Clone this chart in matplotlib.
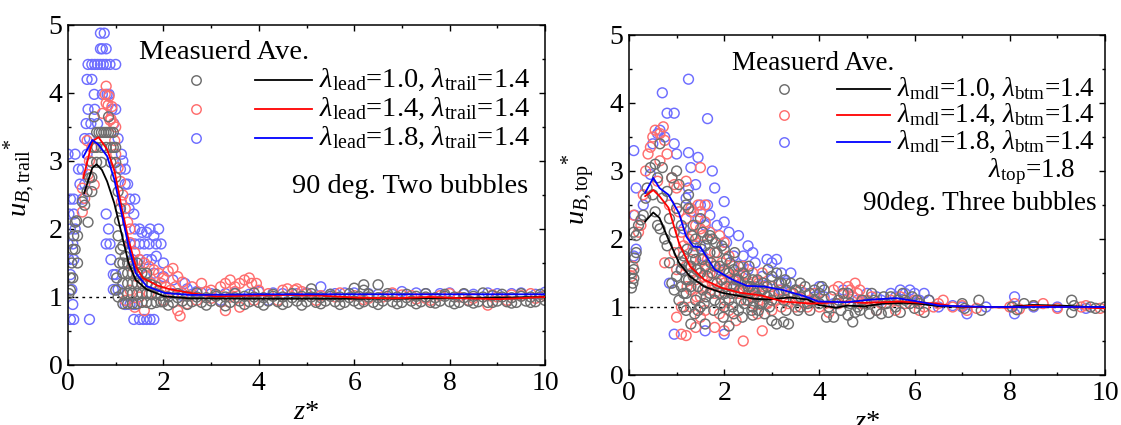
import numpy as np
import matplotlib
matplotlib.use('Agg')
import matplotlib.pyplot as plt
from matplotlib.ticker import MultipleLocator

plt.rcParams['font.family'] = 'Liberation Serif'
plt.rcParams['mathtext.fontset'] = 'custom'
plt.rcParams['mathtext.rm'] = 'Liberation Serif'
plt.rcParams['mathtext.it'] = 'Liberation Serif:italic'
plt.rcParams['font.size'] = 20

# ---- two bubbles (trail) : measured points (z*, u*) ----
trail_gray = [
    (0.02, 1.05), (0.05, 1.28), (0.05, 1.1), (0.08, 1.5), (0.1, 1.7), (0.12, 1.9), (0.15, 2.1),
    (0.18, 2.12), (0.1, 1.28), (0.15, 1.7), (0.2, 1.9), (0.2, 1.5),
    (0.35, 2.35), (0.4, 2.55), (0.45, 2.75), (0.3, 2.4), (0.5, 2.55), (0.42, 2.1),
    (0.5, 2.98), (0.55, 3.2), (0.6, 3.42), (0.65, 3.42), (0.7, 3.42), (0.75, 3.42), (0.8, 3.42),
    (0.85, 3.42), (0.9, 3.42), (0.95, 3.42), (0.55, 3.65), (0.85, 3.65), (0.6, 3.2), (0.7, 3.2),
    (0.8, 3.2), (0.9, 3.2), (0.95, 3.2), (1.0, 3.2), (0.6, 2.98), (0.7, 2.98), (0.9, 2.98),
    (1.0, 2.98), (0.5, 2.76), (1.0, 2.76), (1.05, 2.55), (1.1, 2.3), (1.08, 2.12), (1.05, 1.9),
    (1.1, 1.7), (1.08, 1.5), (1.02, 1.28), (1.0, 1.1), (1.05, 1.0), (1.2, 1.6), (1.15, 1.75),
    (1.15, 0.9), (1.15, 1.05), (1.15, 1.2), (1.15, 1.35), (1.15, 1.5),
    (1.25, 0.9), (1.25, 1.05), (1.25, 1.2), (1.25, 1.35), (1.25, 1.5),
    (1.35, 0.9), (1.35, 1.05), (1.35, 1.2), (1.35, 1.35), (1.35, 1.5),
    (1.45, 0.9), (1.45, 1.05), (1.45, 1.2), (1.45, 1.35), (1.45, 1.5),
    (1.55, 0.92), (1.55, 1.05), (1.55, 1.2), (1.55, 1.35),
    (1.65, 0.92), (1.65, 1.05), (1.65, 1.2), (1.65, 1.35),
    (1.75, 0.9), (1.75, 1.05), (1.75, 1.18), (1.85, 0.92), (1.85, 1.05), (1.85, 1.15),
    (1.95, 0.93), (1.95, 1.02),
    (2.0, 0.93), (2.2, 0.92), (2.4, 0.94), (2.6, 0.93), (2.8, 0.92), (3.0, 0.94), (3.2, 0.93),
    (3.4, 0.92), (3.6, 0.94), (3.8, 0.93), (4.0, 0.92), (4.2, 0.94), (4.4, 0.93), (4.6, 0.92),
    (4.8, 0.94), (5.0, 0.93), (5.2, 0.92), (5.4, 0.94), (5.6, 0.93), (5.8, 0.92), (6.0, 0.94),
    (6.2, 0.93), (6.4, 0.92), (6.6, 0.94), (6.8, 0.93), (7.0, 0.92), (7.2, 0.94), (7.4, 0.93),
    (7.6, 0.92), (7.8, 0.94), (8.0, 0.93), (8.2, 0.92), (8.4, 0.94), (8.6, 0.93), (8.8, 0.92),
    (9.0, 0.94), (9.2, 0.93), (9.4, 0.92), (9.6, 0.94), (9.8, 0.93), (10.0, 0.95),
    (2.1, 1.0), (2.3, 0.99), (2.5, 1.01), (2.7, 1.0), (2.9, 0.99), (3.1, 1.01), (3.3, 1.0),
    (3.5, 0.99), (3.7, 1.01), (3.9, 1.0), (4.1, 0.99), (4.3, 1.01), (4.5, 1.0), (4.7, 0.99),
    (4.9, 1.01), (5.1, 1.0), (5.3, 0.99), (5.5, 1.01), (5.7, 1.0), (5.9, 0.99), (6.1, 1.01),
    (6.3, 1.0), (6.5, 0.99), (6.7, 1.01), (6.9, 1.0), (7.1, 0.99), (7.3, 1.01), (7.5, 1.0),
    (7.7, 0.99), (7.9, 1.01), (8.1, 1.0), (8.3, 0.99), (8.5, 1.01), (8.7, 1.0), (8.9, 1.02),
    (9.1, 1.0), (9.3, 0.99), (9.5, 1.01), (9.7, 1.0), (9.9, 1.0),
    (2.1, 0.88), (2.5, 0.89), (2.9, 0.88), (3.3, 0.87), (3.7, 0.89), (4.1, 0.88), (4.5, 0.89),
    (4.9, 0.88), (5.3, 0.9), (5.7, 0.89), (6.1, 0.9), (6.5, 0.89), (6.9, 0.9), (7.3, 0.9),
    (7.7, 0.91), (8.1, 0.9), (8.5, 0.91), (8.9, 0.92), (9.3, 0.91), (9.7, 0.92),
    (2.3, 1.05), (2.7, 1.06), (3.1, 1.04), (3.5, 1.05), (3.9, 1.06), (4.3, 1.04), (4.7, 1.05),
    (5.1, 1.05), (5.5, 1.04), (5.9, 1.05), (6.3, 1.04), (6.7, 1.05), (7.1, 1.04), (7.5, 1.05),
    (7.9, 1.04), (8.3, 1.05), (8.7, 1.06), (9.1, 1.04), (9.5, 1.05), (9.9, 1.04),
    (5.1, 1.12), (6.0, 1.13), (6.2, 1.18), (6.5, 1.18), (6.2, 1.1),
]
trail_red = [
    (0.3, 2.6), (0.35, 2.45), (0.42, 2.8), (0.45, 3.0), (0.5, 3.2), (0.4, 3.3),
    (0.8, 4.1), (0.78, 3.98), (0.86, 3.95), (0.8, 3.85), (0.84, 3.82), (0.92, 3.8), (0.72, 3.7),
    (0.9, 3.62), (0.95, 3.55), (1.0, 3.5), (0.88, 3.6), (0.98, 3.3), (1.0, 3.1), (1.05, 2.9),
    (1.1, 2.7), (1.15, 2.5), (1.2, 2.3), (1.25, 2.1), (1.12, 2.4), (1.3, 2.0), (0.55, 2.65),
    (0.3, 2.25),
    (1.3, 1.8), (1.4, 1.65), (1.5, 1.55), (1.6, 1.5), (1.7, 1.45), (1.8, 1.4), (1.9, 1.35),
    (2.0, 1.28), (2.1, 1.38), (2.2, 1.42), (2.3, 1.3), (2.4, 1.22), (1.35, 1.45), (1.45, 1.3),
    (1.55, 1.2), (1.65, 1.3), (1.75, 1.2), (1.85, 1.15), (1.95, 1.2), (2.05, 1.15), (2.15, 1.1),
    (2.25, 1.15), (1.3, 1.1), (1.5, 1.0), (1.7, 1.05), (1.4, 0.85), (1.6, 0.8), (1.2, 0.95),
    (2.3, 0.8), (2.35, 0.72), (2.5, 0.9), (2.0, 0.95),
    (2.6, 1.15), (2.8, 1.2), (3.0, 1.1), (3.2, 1.15), (3.3, 1.2), (3.5, 1.15), (3.7, 1.25),
    (3.85, 1.2), (3.3, 0.8), (3.6, 0.85), (2.7, 0.95), (3.0, 0.98), (3.4, 1.0), (3.9, 0.95),
    (3.4, 1.25), (3.6, 1.2), (3.8, 1.28), (3.95, 1.2), (4.6, 1.12), (4.75, 1.1),
    (4.2, 1.05), (4.5, 1.1), (4.8, 1.12), (5.0, 1.05), (5.3, 1.02), (5.6, 1.0), (6.0, 1.02),
    (6.3, 0.98), (6.6, 1.0), (7.0, 1.03), (7.3, 0.97), (7.5, 0.98), (7.8, 1.02), (8.2, 1.0),
    (8.5, 0.98), (8.8, 0.88), (9.0, 1.0), (9.3, 1.03), (9.5, 1.02), (9.8, 0.98), (10.0, 1.02),
    (2.4, 1.05), (2.9, 1.08), (3.2, 0.93), (3.5, 1.08), (4.0, 1.1), (4.4, 0.95), (4.9, 1.08),
    (5.2, 0.95), (5.7, 1.06), (6.2, 0.96), (6.8, 1.06), (7.2, 1.02), (7.6, 0.95), (8.0, 1.05),
    (8.4, 0.95), (8.9, 1.03), (9.2, 0.95), (9.7, 1.05),
]
trail_blue = [
    (0.68, 4.88), (0.76, 4.88), (0.68, 4.65), (0.72, 4.65), (0.8, 4.65),
    (0.42, 4.42), (0.5, 4.42), (0.56, 4.42), (0.62, 4.42), (0.68, 4.42), (0.74, 4.42),
    (0.8, 4.42), (0.88, 4.42), (1.0, 4.42), (0.4, 4.2), (0.5, 4.2),
    (0.55, 3.98), (0.72, 3.98), (0.82, 3.98), (0.86, 3.98),
    (0.42, 3.76), (0.56, 3.76), (0.92, 3.76), (1.0, 3.76),
    (0.38, 3.55), (0.48, 3.55), (0.62, 3.55), (0.96, 3.55),
    (0.35, 3.33), (0.45, 3.33), (1.05, 3.33),
    (0.0, 3.1), (0.15, 3.1), (0.4, 3.1), (1.12, 3.1), (1.15, 3.0),
    (0.22, 2.88), (0.3, 2.88), (1.1, 2.88), (1.2, 2.88),
    (0.25, 2.66), (0.35, 2.66), (1.2, 2.66), (1.25, 2.66),
    (0.05, 2.44), (0.12, 2.44), (0.3, 2.44), (1.3, 2.44), (1.4, 2.44), (1.28, 2.3),
    (0.02, 2.22), (0.12, 2.22), (1.38, 2.22), (0.8, 2.22),
    (0.05, 2.0), (0.15, 2.0), (0.85, 2.0), (1.4, 2.0), (1.5, 2.0), (1.55, 1.95), (1.65, 1.95),
    (1.72, 2.0), (1.9, 2.0), (1.8, 1.9),
    (0.0, 1.78), (0.1, 1.78), (0.8, 1.78), (0.88, 1.78), (1.3, 1.78), (1.4, 1.78), (1.5, 1.78),
    (1.6, 1.78), (1.7, 1.78), (1.85, 1.78), (1.95, 1.78),
    (0.02, 1.55), (0.12, 1.55), (0.9, 1.55), (1.35, 1.55), (1.5, 1.55), (1.65, 1.55),
    (1.75, 1.55), (1.85, 1.6), (2.0, 1.5),
    (0.05, 1.33), (0.95, 1.33), (1.0, 1.33), (1.5, 1.4), (1.8, 1.35), (2.0, 1.3), (2.2, 1.25),
    (2.45, 1.2), (0.08, 1.11), (0.95, 1.11), (1.05, 1.11), (2.5, 1.12), (2.7, 1.08),
    (0.1, 0.89), (1.2, 0.89), (1.3, 0.89), (1.4, 0.89),
    (0.05, 0.67), (0.12, 0.67), (0.45, 0.67), (1.38, 0.67), (1.5, 0.67), (1.58, 0.67),
    (1.65, 0.67), (1.72, 0.67), (1.8, 0.67),
    (3.0, 1.05), (3.5, 1.06), (4.0, 1.08), (4.5, 1.05), (5.0, 1.06), (5.3, 1.15), (5.6, 1.05),
    (6.0, 1.06), (6.5, 1.04), (7.0, 1.08), (7.5, 1.05), (8.0, 1.06), (8.5, 1.04), (9.0, 1.05),
    (9.5, 1.06), (10.0, 1.07), (3.2, 0.95), (4.2, 0.95),
    (2.2, 1.05), (2.4, 1.02), (2.6, 1.04), (2.8, 1.06), (3.3, 1.05), (3.8, 1.04), (4.3, 1.06),
    (4.8, 1.05), (5.5, 1.04), (5.8, 1.06), (6.3, 1.05), (6.8, 1.04), (7.3, 1.06), (7.8, 1.05),
    (8.3, 1.04), (8.8, 1.06), (9.3, 1.05), (9.8, 1.04),
]

# ---- two bubbles : averaged model lines ----
trail_line_x = {
    'black': [0.34, 0.51, 0.6, 0.71, 0.82, 0.97, 1.12, 1.27, 1.42, 1.65, 2.02, 2.55, 4.0, 6.0, 7.0, 8.0, 9.0, 10.0],
    'red': [0.32, 0.51, 0.64, 0.82, 0.97, 1.12, 1.27, 1.42, 1.57, 1.87, 2.1, 2.55, 3.07, 3.8, 4.57, 5.3, 6.07, 6.8, 7.57, 8.3, 9.06, 10.0],
    'blue': [0.32, 0.51, 0.64, 0.82, 0.97, 1.12, 1.27, 1.42, 1.65, 2.02, 2.55, 4.0, 6.0, 8.0, 10.0],
}
trail_line_y = {
    'black': [2.53, 2.9, 2.95, 2.87, 2.7, 2.38, 1.94, 1.5, 1.25, 1.11, 1.01, 0.98, 0.975, 0.975, 0.978, 0.985, 0.99, 1.0],
    'red': [2.75, 3.29, 3.35, 3.17, 2.87, 2.33, 1.84, 1.45, 1.28, 1.17, 1.12, 1.06, 1.01, 1.02, 1.03, 1.02, 0.99, 0.98, 1.0, 0.98, 0.97, 1.0],
    'blue': [3.06, 3.31, 3.24, 3.07, 2.73, 2.24, 1.75, 1.35, 1.16, 1.06, 1.03, 1.04, 1.04, 1.04, 1.04],
}

# ---- three bubbles (top) : measured points ----
top_gray = [
    (0.05, 1.28), (0.08, 1.35), (0.1, 1.42), (0.1, 1.55), (0.05, 1.5), (0.12, 1.72), (0.15, 1.8),
    (0.1, 2.1), (0.15, 2.05), (0.2, 2.2), (0.25, 2.28), (0.3, 2.35), (0.35, 2.6), (0.38, 2.75),
    (0.45, 3.05), (0.55, 3.1), (0.65, 3.4), (0.7, 3.05), (0.6, 2.9), (0.5, 2.65), (0.7, 2.6),
    (0.55, 2.4), (0.6, 2.2), (0.65, 2.15), (0.75, 2.0), (0.8, 1.9), (0.85, 1.65), (0.9, 1.35),
    (0.95, 1.25), (1.0, 1.45), (1.05, 1.8), (1.0, 2.45), (1.05, 2.8), (1.0, 3.0), (0.9, 2.9),
    (0.8, 2.7), (0.85, 2.3), (0.95, 2.1), (1.1, 2.2),
    (1.15, 1.0), (1.2, 1.2), (1.25, 1.4), (1.3, 1.6), (1.35, 1.8), (1.4, 2.0), (1.45, 1.3),
    (1.5, 1.5), (1.55, 1.7), (1.6, 1.9), (1.65, 1.45), (1.7, 1.8), (1.75, 2.0), (1.8, 1.6),
    (1.85, 1.35), (1.9, 1.6), (1.95, 1.4), (2.0, 1.85), (2.05, 1.3), (2.1, 1.5), (2.15, 1.2),
    (2.2, 1.55), (2.25, 1.4), (2.3, 1.6), (2.35, 1.1), (2.4, 1.25), (2.45, 1.45), (2.5, 1.1),
    (2.55, 1.3), (2.6, 1.0), (2.65, 1.2), (2.7, 1.4), (2.75, 1.05), (2.8, 1.25), (2.9, 1.3),
    (2.95, 1.0), (3.0, 1.45), (3.1, 1.5), (3.15, 1.2), (3.25, 1.1), (3.3, 0.95), (1.3, 0.75),
    (1.6, 0.75), (2.1, 0.72), (2.2, 0.9), (1.5, 1.0), (1.8, 1.1), (1.2, 0.95), (1.4, 1.1),
    (1.7, 1.2), (2.0, 1.0), (2.3, 0.95), (2.6, 0.88), (2.85, 0.9), (3.0, 0.8), (3.1, 0.75),
    (3.25, 0.78), (3.35, 0.75), (1.25, 2.45), (1.35, 2.2), (1.5, 2.3), (1.55, 2.1), (1.7, 2.05),
    (1.95, 1.9), (1.15, 1.75), (1.1, 1.55), (1.2, 2.5), (1.25, 2.65),
    (1.2, 1.4), (1.3, 1.3), (1.4, 1.7), (1.45, 0.95), (1.55, 1.25), (1.6, 1.6), (1.65, 2.0),
    (1.75, 1.5), (1.85, 1.8), (1.9, 1.2), (2.0, 1.55), (2.05, 1.7), (2.1, 1.1), (2.2, 1.3),
    (2.3, 1.4), (2.4, 1.5), (2.5, 1.3), (2.6, 1.4), (2.7, 1.15), (2.8, 1.05), (2.9, 1.15),
    (3.0, 1.1), (3.2, 1.35), (3.3, 1.25), (1.15, 1.2), (1.35, 1.45), (1.25, 1.6), (1.05, 1.1),
    (1.1, 1.3),
    (1.12, 1.65), (1.22, 1.85), (1.32, 2.05), (1.42, 1.55), (1.52, 1.85), (1.62, 1.15),
    (1.72, 1.65), (1.82, 1.95), (1.92, 1.05), (2.02, 1.2), (2.12, 1.65), (2.22, 1.8),
    (2.32, 1.25), (2.42, 1.05), (2.52, 1.6), (2.62, 1.25), (2.72, 0.95), (2.82, 1.35),
    (2.92, 1.55), (3.05, 1.2), (3.15, 1.35), (3.28, 1.4), (3.45, 1.2), (3.55, 0.95),
    (3.75, 1.05), (1.38, 0.9), (1.58, 1.05), (1.78, 0.95), (1.98, 0.85), (2.18, 1.0),
    (2.38, 0.85), (2.58, 0.95),
    (3.4, 1.35), (3.5, 1.25), (3.6, 1.15), (3.7, 1.3), (3.8, 1.2), (3.9, 1.1), (4.0, 1.2),
    (4.05, 1.3), (4.1, 1.25), (4.15, 0.85), (4.3, 0.85), (4.45, 0.95), (4.6, 0.88), (4.7, 0.78),
    (4.75, 0.92), (4.8, 1.0), (4.9, 1.1), (5.0, 1.05), (5.1, 1.2), (5.2, 0.95), (5.3, 0.9),
    (5.4, 1.05), (5.5, 1.15), (5.6, 1.0), (5.7, 0.92), (5.8, 1.1), (5.9, 1.05), (6.0, 0.98),
    (6.1, 1.05), (6.2, 0.92), (6.3, 1.1), (4.2, 1.0), (4.4, 1.1), (4.6, 1.2), (3.6, 1.0),
    (3.8, 0.95), (3.5, 1.1), (3.6, 1.35), (3.9, 1.25), (4.0, 1.05), (4.25, 1.15), (4.35, 1.05),
    (4.5, 1.2), (4.65, 1.05), (4.85, 0.95), (5.05, 0.9), (5.15, 1.1), (5.35, 1.15), (5.45, 0.92),
    (5.65, 1.1), (5.75, 1.2), (5.95, 1.15), (6.05, 1.1),
    (7.0, 1.05), (7.05, 0.98), (7.35, 1.1), (7.4, 0.95), (8.05, 1.0), (8.15, 0.96),
    (8.3, 1.05), (8.5, 1.02), (9.3, 1.1), (9.3, 0.92), (9.35, 1.02), (9.7, 1.0), (9.8, 0.98),
    (10.0, 1.0),
]
top_red = [
    (0.05, 1.45), (0.08, 1.6), (0.1, 2.35), (0.2, 2.1), (0.25, 2.2), (0.3, 2.65), (0.35, 3.0),
    (0.4, 3.25), (0.45, 3.35), (0.5, 3.5), (0.55, 3.6), (0.65, 3.55), (0.72, 3.65), (0.75, 3.45),
    (0.8, 3.25), (0.65, 3.15), (0.6, 2.85), (0.9, 2.9), (0.95, 2.8), (1.0, 2.75), (0.85, 2.5),
    (1.2, 2.85), (1.5, 3.05), (1.3, 2.45), (1.4, 2.2), (1.2, 2.3), (1.5, 2.4), (1.6, 2.25),
    (1.1, 2.1), (0.75, 1.65), (0.95, 1.8), (1.2, 1.6), (1.4, 1.4), (1.6, 1.3), (1.8, 1.8),
    (1.9, 2.05), (2.0, 1.95), (2.1, 1.75), (2.2, 1.6), (2.4, 1.6), (2.5, 1.35), (2.6, 1.5),
    (2.8, 1.5), (3.0, 1.3), (1.3, 1.0), (1.5, 1.15), (1.7, 1.5), (1.8, 1.2), (2.0, 1.35),
    (2.3, 1.2), (2.6, 1.15), (2.9, 1.05), (1.0, 0.85), (1.1, 0.6), (1.2, 0.58), (1.4, 0.7),
    (1.8, 0.7), (2.4, 0.5), (2.8, 0.65), (2.0, 0.65), (2.25, 0.8), (1.6, 0.95), (1.15, 1.9),
    (1.35, 2.05),
    (1.3, 1.7), (1.4, 1.9), (1.45, 1.55), (1.55, 1.45), (1.65, 1.7), (1.7, 2.1), (1.75, 1.35),
    (1.85, 1.5), (1.95, 1.65), (2.05, 1.5), (2.15, 1.3), (2.25, 1.45), (2.35, 1.35), (2.45, 1.1),
    (2.55, 1.2), (2.65, 1.3), (2.75, 1.1), (2.85, 1.2), (3.1, 1.1), (3.2, 1.0), (3.4, 1.2),
    (1.25, 2.0), (1.45, 2.5), (1.55, 2.05), (1.05, 2.4), (1.0, 1.55), (1.3, 1.25), (1.1, 1.0),
    (1.22, 1.3), (1.32, 1.5), (1.42, 1.15), (1.52, 1.7), (1.62, 1.55), (1.72, 1.25),
    (1.82, 1.6), (1.92, 1.3), (2.02, 1.1), (2.12, 1.4), (2.22, 1.2), (2.32, 1.5), (2.42, 1.35),
    (2.52, 1.25), (2.62, 1.05), (2.72, 1.35), (2.82, 1.3), (2.95, 1.2), (3.15, 1.25),
    (3.35, 1.05), (3.55, 1.15), (3.75, 1.0), (1.5, 0.85), (1.9, 0.9), (2.1, 0.95), (2.7, 0.9),
    (3.0, 0.95), (1.35, 2.4), (1.6, 2.5), (1.5, 2.15),
    (3.3, 1.1), (3.5, 1.0), (3.6, 1.25), (3.8, 1.1), (4.0, 1.0), (4.2, 0.92), (4.4, 1.05),
    (4.5, 1.2), (4.6, 1.3), (4.65, 1.25), (4.7, 1.15), (4.75, 1.35), (4.8, 1.2), (4.9, 1.05),
    (5.0, 1.1), (5.2, 0.95), (5.5, 1.1), (5.8, 1.05), (6.0, 1.1), (6.2, 1.0), (6.5, 1.05),
    (3.7, 1.05), (3.9, 1.2), (4.1, 1.1), (4.3, 1.25), (4.4, 1.3), (4.55, 1.1), (4.85, 1.25),
    (5.1, 1.15), (5.3, 1.05), (5.6, 0.95), (5.7, 1.15), (6.1, 0.95), (6.4, 1.0),
    (6.6, 1.1), (6.8, 1.0), (7.0, 1.02), (7.1, 0.95), (7.3, 0.98), (8.0, 1.0), (8.1, 1.05),
    (8.2, 0.97), (8.5, 1.02), (8.7, 1.05), (9.0, 0.98), (9.5, 1.0), (9.6, 1.02), (9.9, 0.98),
]
top_blue = [
    (0.1, 1.75), (0.15, 1.85), (0.12, 2.35), (0.15, 2.75), (0.1, 3.3), (0.3, 2.5), (0.45, 2.95),
    (0.5, 3.4), (0.6, 3.55), (0.65, 3.6), (0.75, 3.5), (0.7, 4.15), (0.8, 3.85), (0.95, 3.85),
    (1.25, 4.35), (1.65, 3.77), (0.95, 3.4), (1.0, 3.25), (1.25, 3.27), (1.45, 3.2), (1.3, 3.05),
    (1.75, 3.0), (1.4, 2.8), (1.2, 2.6), (1.25, 2.75), (1.5, 2.5), (1.8, 2.75), (2.0, 2.55),
    (1.6, 2.2), (1.7, 2.35), (2.0, 2.25), (2.1, 2.1), (2.3, 2.05), (2.5, 1.9), (2.6, 1.8),
    (2.4, 1.75), (2.9, 1.7), (3.0, 1.65), (3.1, 1.7), (3.4, 1.5), (0.85, 1.35), (0.95, 0.6),
    (1.6, 0.65), (2.0, 0.6), (1.1, 1.55), (1.35, 1.9), (1.55, 1.75), (1.9, 1.55), (2.2, 1.4),
    (2.7, 1.3), (3.2, 1.25),
    (1.5, 1.9), (1.65, 2.5), (1.85, 2.2), (2.05, 1.95), (2.2, 1.75), (2.35, 1.6), (2.5, 1.55),
    (2.65, 1.65), (2.8, 1.45), (3.0, 1.4), (3.2, 1.5), (3.3, 1.35), (3.5, 1.25), (3.9, 1.15),
    (1.3, 2.4), (1.15, 2.15), (1.45, 2.3),
    (3.7, 1.2), (4.0, 1.3), (4.1, 1.15), (4.5, 1.25), (4.8, 1.1), (5.2, 1.15), (5.5, 1.2),
    (5.7, 1.25), (5.8, 1.2), (5.9, 1.25), (6.0, 1.2), (6.3, 1.1), (6.8, 1.02), (7.1, 0.9),
    (4.3, 1.05), (4.7, 1.15), (5.0, 1.2), (5.3, 1.1), (5.6, 1.15), (6.1, 1.1), (6.2, 1.2),
    (6.5, 1.0), (7.0, 1.0),
    (7.5, 1.0), (8.1, 1.15), (8.1, 0.9), (8.5, 1.0), (9.0, 1.0), (9.6, 0.98),
]

top_line_x = {
    'black': [0.34, 0.51, 0.64, 0.83, 1.05, 1.28, 1.58, 1.95, 2.33, 2.63, 2.93, 3.38, 3.75, 3.98, 4.35, 4.58, 4.95, 5.33, 5.78, 6.08, 6.53, 7.2, 7.96, 8.48, 9.08, 10.0],
    'red': [0.34, 0.51, 0.64, 0.83, 1.05, 1.28, 1.58, 1.95, 2.33, 2.78, 3.23, 3.83, 4.58, 4.95, 5.7, 6.46, 6.83, 7.96, 8.48, 10.0],
    'blue': [0.34, 0.51, 0.64, 0.83, 1.05, 1.2, 1.35, 1.5, 1.8, 2.18, 2.48, 2.85, 3.23, 3.68, 3.98, 4.58, 5.1, 5.63, 6.08, 6.53, 7.58, 9.08, 10.0],
}
top_line_y = {
    'black': [2.26, 2.39, 2.31, 1.99, 1.65, 1.45, 1.3, 1.21, 1.16, 1.12, 1.11, 1.14, 1.11, 1.03, 0.99, 1.02, 1.01, 1.05, 1.06, 1.05, 1.01, 1.0, 1.0, 1.03, 1.02, 0.99],
    'red': [2.63, 2.72, 2.63, 2.46, 1.94, 1.6, 1.4, 1.28, 1.21, 1.17, 1.08, 1.05, 1.08, 1.06, 1.08, 1.05, 1.01, 0.99, 1.02, 0.98],
    'blue': [2.68, 2.9, 2.75, 2.65, 2.38, 2.04, 1.89, 1.88, 1.55, 1.4, 1.31, 1.3, 1.25, 1.16, 1.08, 1.07, 1.11, 1.13, 1.08, 1.02, 1.0, 1.0, 1.0],
}

trail_labels = [r'$\lambda_{\mathrm{lead}}$=1.0, $\lambda_{\mathrm{trail}}$=1.4',
                r'$\lambda_{\mathrm{lead}}$=1.4, $\lambda_{\mathrm{trail}}$=1.4',
                r'$\lambda_{\mathrm{lead}}$=1.8, $\lambda_{\mathrm{trail}}$=1.4']
top_labels = [r'$\lambda_{\mathrm{mdl}}$=1.0, $\lambda_{\mathrm{btm}}$=1.4',
              r'$\lambda_{\mathrm{mdl}}$=1.4, $\lambda_{\mathrm{btm}}$=1.4',
              r'$\lambda_{\mathrm{mdl}}$=1.8, $\lambda_{\mathrm{btm}}$=1.4']

pt_colors = {'gray': '#6e6e6e', 'red': '#ff6e6e', 'blue': '#6e6eff'}
ln_colors = {'black': 'black', 'red': '#ff0000', 'blue': '#0000ff'}


def draw_panel(ax, pts, lx, ly, labels, ylabel, leg):
    fs = leg['fs']
    ax.plot([0, 10], [1, 1], ls=(0, (2, 3)), color='black', lw=1.0, zorder=1)
    for key in ['blue', 'red', 'gray']:
        xy = np.array(pts[key])
        ax.scatter(xy[:, 0], xy[:, 1], s=50, facecolors='none',
                   edgecolors=pt_colors[key], linewidths=1.05, zorder=2)
    for key in ['black', 'red', 'blue']:
        ax.plot(lx[key], ly[key], color=ln_colors[key], lw=1.3, zorder=3)

    ax.set_xlim(0, 10)
    ax.set_ylim(0, 5)
    ax.xaxis.set_major_locator(MultipleLocator(2))
    ax.xaxis.set_minor_locator(MultipleLocator(1))
    ax.yaxis.set_major_locator(MultipleLocator(1))
    ax.yaxis.set_minor_locator(MultipleLocator(0.5))
    ax.tick_params(which='both', direction='in', top=True, right=True, labelsize=20, pad=4)
    ax.tick_params(which='major', length=4, width=1)
    ax.tick_params(which='minor', length=2.5, width=1)
    for s in ax.spines.values():
        s.set_linewidth(1.1)
    ax.set_xlabel(r'$z$*', fontsize=20.5, labelpad=3)
    ax.set_ylabel(ylabel, fontsize=20.5)
    ax.yaxis.set_label_coords(leg['ylab'][0], leg['ylab'][1])

    # hand-drawn legend block
    t = ax.transAxes
    ax.text(leg['head'][0], leg['head'][1], 'Measuerd Ave.', transform=t,
            ha='left', va='center', fontsize=fs)
    for i, key in enumerate(['gray', 'red', 'blue']):
        yy = leg['rows'][i]
        ax.plot([leg['mk']], [yy], 'o', ms=6.8, mfc='none', mec=pt_colors[key],
                mew=1.05, transform=t, clip_on=False)
        ax.plot(leg['ln'], [yy, yy], color=ln_colors[['black', 'red', 'blue'][i]],
                lw=1.3, transform=t, clip_on=False)
        ax.text(leg['txt'], yy, labels[i], transform=t, ha='left', va='center', fontsize=fs)
    for s, x, y in leg['notes']:
        ax.text(x, y, s, transform=t, ha='right', va='center', fontsize=fs)


fig = plt.figure(figsize=(11.21, 4.25), dpi=100)
ax1 = fig.add_axes([68 / 1121, 60 / 425, 477 / 1121, 340 / 425])
ax2 = fig.add_axes([629 / 1121, 50 / 425, 476 / 1121, 340 / 425])

draw_panel(ax1, {'gray': trail_gray, 'red': trail_red, 'blue': trail_blue},
           trail_line_x, trail_line_y, trail_labels,
           r'$u_{B,\mathrm{trail}}{}^{*}$',
           {'fs': 20.5, 'ylab': (-0.064, 0.55), 'head': (0.149, 0.918),
            'rows': [0.838, 0.753, 0.668], 'mk': 0.268, 'ln': [0.392, 0.512],
            'txt': 0.526, 'notes': [('90 deg. Two bubbles', 0.964, 0.524)]})
draw_panel(ax2, {'gray': top_gray, 'red': top_red, 'blue': top_blue},
           top_line_x, top_line_y, top_labels,
           r'$u_{B,\mathrm{top}}{}^{*}$',
           {'fs': 19.5, 'ylab': (-0.066, 0.547), 'head': (0.216, 0.915),
            'rows': [0.841, 0.765, 0.685], 'mk': 0.326, 'ln': [0.437, 0.548],
            'txt': 0.563,
            'notes': [(r'$\lambda_{\mathrm{top}}$=1.8', 0.937, 0.597),
                      ('90deg. Three bubbles', 0.983, 0.503)]})

fig.savefig('out.png', dpi=100)
